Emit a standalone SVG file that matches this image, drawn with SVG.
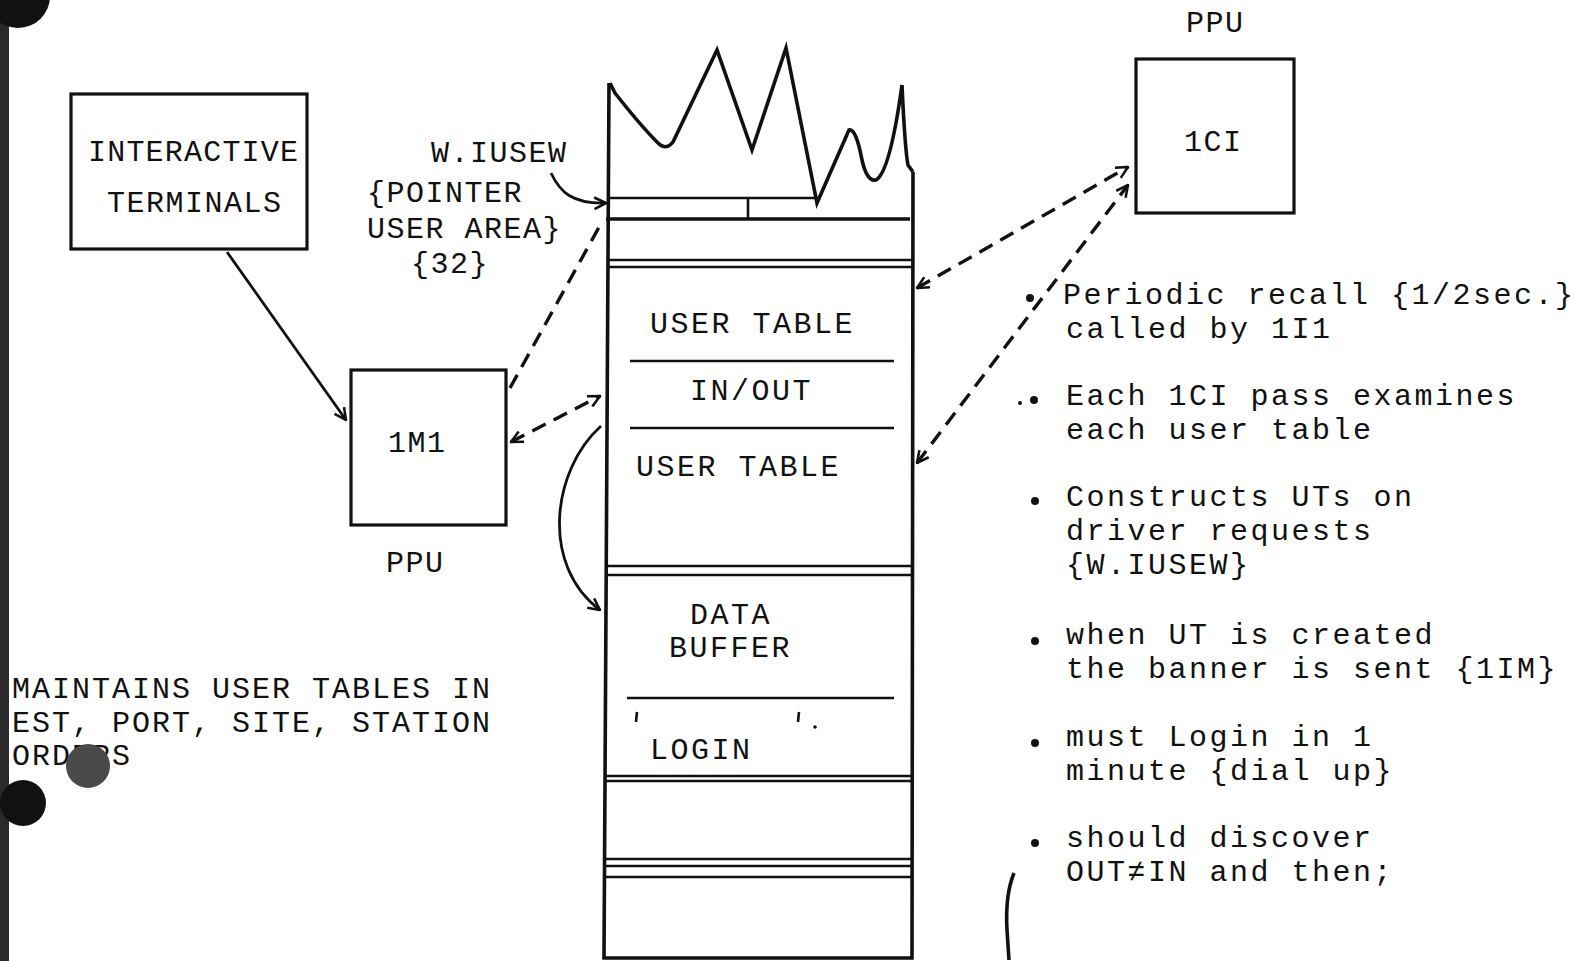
<svg xmlns="http://www.w3.org/2000/svg" width="1580" height="961" viewBox="0 0 1580 961">
<style>
.t{font-family:"Liberation Mono","DejaVu Sans Mono",monospace;font-size:30px;letter-spacing:1.5px;fill:#111}
.r{font-family:"Liberation Mono","DejaVu Sans Mono",monospace;font-size:30px;letter-spacing:2.5px;fill:#111}
.box{fill:none;stroke:#111;stroke-width:3.2}
.ln{fill:none;stroke:#111;stroke-width:2.6}
.thk{fill:none;stroke:#111;stroke-width:3.6}
.dash{fill:none;stroke:#111;stroke-width:3.4;stroke-dasharray:15 9}
.arr{fill:none;stroke:#111;stroke-width:2.8}
.dot{fill:#111}
</style>
<defs>
<marker id="ah" viewBox="0 0 12 12" refX="11" refY="6" markerWidth="14" markerHeight="14" markerUnits="userSpaceOnUse" orient="auto-start-reverse">
<path d="M1,1 L11,6 L1,11" fill="none" stroke="#111" stroke-width="2.2"/>
</marker>
</defs>
<rect width="1580" height="961" fill="#fff"/>
<g id="scan">
<rect x="0" y="0" width="9" height="961" fill="#2a2a2a"/>
<circle cx="18" cy="-4" r="32" fill="#111"/>
<circle cx="23" cy="803" r="23" fill="#111"/>
</g>
<g id="terminals">
<rect class="box" x="71" y="94" width="236" height="155"/>
<text class="t" x="88" y="161" style="letter-spacing:1.2px">INTERACTIVE</text>
<text class="t" x="107" y="212">TERMINALS</text>
</g>
<g id="pointer-label">
<text class="t" x="431" y="162">W.IUSEW</text>
<text class="t" x="367" y="202">{POINTER</text>
<text class="t" x="367" y="238">USER AREA}</text>
<text class="t" x="411" y="273">{32}</text>
</g>
<g id="m1">
<rect class="box" x="351" y="370" width="155" height="155"/>
<text class="t" x="388" y="452">1M1</text>
<text class="t" x="386" y="572">PPU</text>
</g>
<g id="ci">
<text class="t" x="1186" y="32">PPU</text>
<rect class="box" x="1136" y="59" width="158" height="154"/>
<text class="t" x="1184" y="151">1CI</text>
</g>
<g id="memory">
<path class="thk" d="M610,83 L615,93 Q640,125 658,143 Q666,151 673,142 L717,50 L752,150 L786,48 L817,203 L849,130 Q856,128 862,160 Q867,182 876,180 Q890,172 902,85 Q905,150 908,165 L913,172"/>
<path class="thk" d="M609,83 L604,958 L912,958 L913,172"/>
<line class="ln" x1="609" y1="198" x2="817" y2="198"/>
<line class="ln" x1="748" y1="198" x2="748" y2="219"/>
<line class="thk" x1="606" y1="219" x2="910" y2="219"/>
<line class="ln" x1="608" y1="260" x2="913" y2="260"/>
<line class="ln" x1="608" y1="267" x2="913" y2="267"/>
<text class="r" x="650" y="333">USER TABLE</text>
<line class="ln" x1="630" y1="361" x2="894" y2="361"/>
<text class="r" x="690" y="400">IN/OUT</text>
<line class="ln" x1="630" y1="428" x2="894" y2="428"/>
<text class="r" x="636" y="476">USER TABLE</text>
<line class="ln" x1="606" y1="566" x2="913" y2="566"/>
<line class="ln" x1="606" y1="575" x2="913" y2="575"/>
<text class="r" x="690" y="624">DATA</text>
<text class="r" x="669" y="657">BUFFER</text>
<line class="ln" x1="627" y1="698" x2="894" y2="698"/>
<line class="ln" x1="637" y1="712" x2="636" y2="722"/>
<line class="ln" x1="799" y1="712" x2="798" y2="722"/>
<circle class="dot" cx="815" cy="727" r="1.8"/>
<text class="r" x="650" y="759">LOGIN</text>
<line class="ln" x1="605" y1="776" x2="913" y2="776"/>
<line class="ln" x1="605" y1="781" x2="913" y2="781"/>
<line class="ln" x1="605" y1="859" x2="912" y2="859"/>
<line class="ln" x1="605" y1="866" x2="912" y2="866"/>
<line class="ln" x1="605" y1="877" x2="912" y2="877"/>
</g>
<g id="notes-left">
<text class="t" x="12" y="698" style="letter-spacing:2px">MAINTAINS USER TABLES IN</text>
<text class="t" x="12" y="732" style="letter-spacing:2px">EST, PORT, SITE, STATION</text>
<text class="t" x="12" y="765" style="letter-spacing:2px">ORDERS</text>
<circle cx="88" cy="766" r="22" fill="#4a4a4a"/>
</g>
<g id="notes-right">
<circle class="dot" cx="1030" cy="298" r="4"/>
<text class="r" x="1063" y="304">Periodic recall {1/2sec.}</text>
<text class="r" x="1066" y="338">called by 1I1</text>
<circle class="dot" cx="1020" cy="403" r="2"/>
<circle class="dot" cx="1034" cy="400" r="4"/>
<text class="r" x="1066" y="405">Each 1CI pass examines</text>
<text class="r" x="1066" y="439">each user table</text>
<circle class="dot" cx="1035" cy="501" r="4"/>
<text class="r" x="1066" y="506">Constructs UTs on</text>
<text class="r" x="1066" y="540">driver requests</text>
<text class="r" x="1066" y="574">{W.IUSEW}</text>
<circle class="dot" cx="1035" cy="641" r="4"/>
<text class="r" x="1066" y="644">when UT is created</text>
<text class="r" x="1066" y="678">the banner is sent {1IM}</text>
<circle class="dot" cx="1035" cy="743" r="4"/>
<text class="r" x="1066" y="746">must Login in 1</text>
<text class="r" x="1066" y="780">minute {dial up}</text>
<circle class="dot" cx="1035" cy="843" r="4"/>
<text class="r" x="1066" y="847">should discover</text>
<text class="r" x="1066" y="881">OUT≠IN and then;</text>
<path class="thk" d="M1014,873 Q1005,895 1007,930 L1009,960"/>
</g>
<g id="connectors">
<line class="arr" x1="227" y1="252" x2="346" y2="420" marker-end="url(#ah)"/>
<line class="dash" x1="510" y1="388" x2="603" y2="220"/>
<line class="dash" x1="511" y1="442" x2="600" y2="396" marker-start="url(#ah)" marker-end="url(#ah)"/>
<path class="arr" d="M551,173 C560,192 572,204 606,203" marker-end="url(#ah)"/>
<path class="arr" d="M601,426 C552,470 540,565 600,610" marker-end="url(#ah)"/>
<line class="dash" x1="917" y1="288" x2="1128" y2="167" marker-start="url(#ah)" marker-end="url(#ah)"/>
<line class="dash" x1="917" y1="463" x2="1128" y2="185" marker-start="url(#ah)" marker-end="url(#ah)"/>
</g>
</svg>
